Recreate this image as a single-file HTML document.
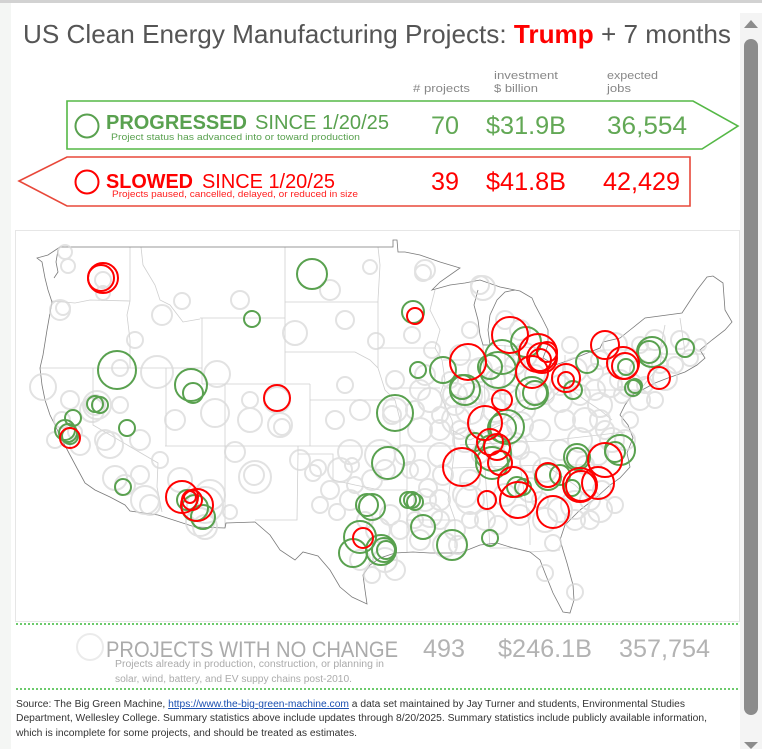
<!DOCTYPE html>
<html><head><meta charset="utf-8"><style>
html,body{margin:0;padding:0;background:#fff;width:762px;height:749px;overflow:hidden}
svg{display:block}
text{font-family:"Liberation Sans",Arial,sans-serif}
.g{fill:none;stroke:#d9d9d9;stroke-width:2;opacity:.75}
.gr{fill:none;stroke:#59a14f;stroke-width:2}
.rd{fill:none;stroke:#ff0000;stroke-width:2}
.st{fill:none;stroke:#cfcfcf;stroke-width:.8}
</style></head><body>
<svg width="762" height="749" viewBox="0 0 762 749" xmlns="http://www.w3.org/2000/svg">
<rect x="0" y="0" width="762" height="749" fill="#fff"/>
<rect x="0" y="0" width="11" height="749" fill="#f4f6f4"/>
<rect x="740" y="13" width="22" height="736" fill="#f4f4f4"/>
<rect x="0" y="0" width="762" height="3" fill="#d2d2d2"/>
<!-- scrollbar -->
<polygon points="744,28 758,28 751,20" fill="#8c8c8c"/>
<rect x="744" y="39" width="14" height="676" rx="7" fill="#8c8c8c"/>
<polygon points="744,742 758,742 751,749" fill="#8c8c8c"/>

<!-- title -->
<text x="23" y="43" font-size="26" fill="#555" textLength="708" lengthAdjust="spacingAndGlyphs">US Clean Energy Manufacturing Projects: <tspan fill="#ff0000" font-weight="bold">Trump</tspan> + 7 months</text>

<!-- headers -->
<text x="413" y="92" font-size="11" fill="#888" textLength="57" lengthAdjust="spacingAndGlyphs"># projects</text>
<text x="494" y="79" font-size="11" fill="#888" textLength="64" lengthAdjust="spacingAndGlyphs">investment</text>
<text x="494" y="92" font-size="11" fill="#888" textLength="44" lengthAdjust="spacingAndGlyphs">$ billion</text>
<text x="607" y="79" font-size="11" fill="#888" textLength="51" lengthAdjust="spacingAndGlyphs">expected</text>
<text x="607" y="92" font-size="11" fill="#888" textLength="24" lengthAdjust="spacingAndGlyphs">jobs</text>

<!-- progressed box -->
<polygon points="67,101 693,101 738,126 702,149 67,149" fill="none" stroke="#55b846" stroke-width="1.6"/>
<circle cx="87" cy="126" r="11.5" class="gr"/>
<text x="106" y="129" font-size="20" fill="#59a14f" font-weight="bold" textLength="141" lengthAdjust="spacingAndGlyphs">PROGRESSED</text>
<text x="255" y="129" font-size="20" fill="#59a14f" textLength="134" lengthAdjust="spacingAndGlyphs">SINCE 1/20/25</text>
<text x="111" y="140" font-size="9.5" fill="#59a14f" textLength="249" lengthAdjust="spacingAndGlyphs">Project status has advanced into or toward production</text>
<text x="431" y="134" font-size="25" fill="#62a855" textLength="28" lengthAdjust="spacingAndGlyphs">70</text>
<text x="486" y="134" font-size="25" fill="#62a855" textLength="80" lengthAdjust="spacingAndGlyphs">$31.9B</text>
<text x="607" y="134" font-size="25" fill="#62a855" textLength="80" lengthAdjust="spacingAndGlyphs">36,554</text>

<!-- slowed box -->
<polygon points="19,181 67,157 690,157 690,206 67,206" fill="none" stroke="#e8483a" stroke-width="1.6"/>
<circle cx="87" cy="182" r="11.5" class="rd"/>
<text x="106" y="188" font-size="20" fill="#ff0000" font-weight="bold" textLength="87" lengthAdjust="spacingAndGlyphs">SLOWED</text>
<text x="202" y="188" font-size="20" fill="#ff0000" textLength="133" lengthAdjust="spacingAndGlyphs">SINCE 1/20/25</text>
<text x="112" y="197" font-size="9.5" fill="#ff2020" textLength="246" lengthAdjust="spacingAndGlyphs">Projects paused, cancelled, delayed, or reduced in size</text>
<text x="431" y="190" font-size="25" fill="#ff0000" textLength="28" lengthAdjust="spacingAndGlyphs">39</text>
<text x="486" y="190" font-size="25" fill="#ff0000" textLength="80" lengthAdjust="spacingAndGlyphs">$41.8B</text>
<text x="603" y="190" font-size="25" fill="#ff0000" textLength="77" lengthAdjust="spacingAndGlyphs">42,429</text>

<!-- map frame -->
<rect x="15.5" y="230.5" width="724" height="391" fill="#fff" stroke="#e6e6e6" stroke-width="1"/>

<!-- state borders -->
<g class="st">
<polyline points="52,301 75,303 90,300 130,301"/>
<polyline points="130,247 130,301 127,315 130,340 130,368"/>
<polyline points="40,368 202,368"/>
<polyline points="141,247 143,265 155,285 160,300 170,305 183,322 200,319"/>
<polyline points="202,318 202,384"/>
<polyline points="200,318 285,318"/>
<polyline points="285,247 285,384"/>
<polyline points="285,302 378,302"/>
<polyline points="285,352 355,352 370,360 378,368"/>
<polyline points="202,384 310,384"/>
<polyline points="166,368 166,446"/>
<polyline points="93,368 93,425 158,463 157,487 162,512"/>
<polyline points="225,384 225,528"/>
<polyline points="165,446 400,446"/>
<polyline points="310,384 310,446"/>
<polyline points="310,400 395,400"/>
<polyline points="298,446 298,454 297,520 255,520"/>
<polyline points="298,454 333,454 333,480 355,485 380,490 407,490"/>
<polyline points="407,446 407,490 407,520 407,552"/>
<polyline points="378,247 380,265 378,300 378,368"/>
<polyline points="378,348 435,348"/>
<polyline points="378,368 385,390 395,400 400,420 400,446"/>
<polyline points="390,388 440,388"/>
<polyline points="400,446 455,446 455,453"/>
<polyline points="407,520 455,520"/>
<polyline points="435,290 430,310 440,330 435,348 442,360 445,380 440,395 452,420 455,446 452,470 448,500 455,520 455,548"/>
<polyline points="443,360 480,360"/>
<polyline points="483,345 485,400 480,420"/>
<polyline points="452,430 470,440 490,430 510,420 530,405 550,400 565,385"/>
<polyline points="505,345 505,410"/>
<polyline points="490,345 540,348"/>
<polyline points="460,445 560,440"/>
<polyline points="452,468 548,465"/>
<polyline points="485,468 490,548"/>
<polyline points="520,465 530,530 530,545"/>
<polyline points="490,548 515,548 530,552 560,550"/>
<polyline points="545,465 575,485 590,500"/>
<polyline points="560,465 600,465 610,472"/>
<polyline points="555,440 625,432"/>
<polyline points="565,385 585,400 600,410 612,420"/>
<polyline points="565,355 565,390 640,390"/>
<polyline points="600,350 660,350"/>
<polyline points="660,350 665,325"/>
<polyline points="680,318 685,352"/>
<polyline points="660,354 705,354"/>
<polyline points="640,390 652,375 660,365 662,352"/>
</g>

<!-- outline -->
<polyline fill="none" stroke="#7a7a7a" stroke-width="0.8" points="60,247 393,247 393,240 397,240 398,252 405,252 420,255 440,262 460,268 440,282 432,290 450,285 465,283 480,280 500,287 520,291 532,298 535,305 542,318 548,330 548,345 543,358 555,365 570,360 590,352 600,348 603,342 620,338 630,330 645,318 682,313 697,290 707,277 713,276 723,283 725,310 732,322 725,330 712,340 700,350 705,358 697,365 685,372 668,378 655,383 642,390 632,395 625,405 620,415 628,425 633,438 627,453 630,467 620,478 610,485 597,497 580,510 565,525 560,540 567,563 573,585 574,600 570,613 563,612 553,593 545,573 540,560 530,552 513,548 497,543 480,545 460,553 430,553 413,552 395,553 380,558 370,565 363,575 365,590 367,604 352,597 340,587 330,570 318,556 303,552 295,560 280,550 270,535 255,522 226,523 225,528 195,527 158,515 130,511 125,505 110,497 95,490 85,483 78,470 70,455 62,440 55,425 50,415 45,400 42,385 40,368 43,355 47,330 52,302 48,290 45,278 42,262 37,258 48,255 60,247"/>
<polyline fill="none" stroke="#7a7a7a" stroke-width="0.8" points="478,290 474,305 478,320 480,335 483,345 490,345 488,330 490,315 497,300 505,292 515,290"/>
<polyline fill="none" stroke="#7a7a7a" stroke-width="0.8" points="58,250 56,262 58,272 54,278"/>

<!-- gray circles -->
<g class="g">
<circle cx="65" cy="252" r="7"/><circle cx="68" cy="266" r="7"/><circle cx="60" cy="310" r="10"/><circle cx="63" cy="308" r="7"/>
<circle cx="103" cy="293" r="7"/><circle cx="103" cy="280" r="8"/><circle cx="162" cy="315" r="10"/><circle cx="182" cy="301" r="8"/>
<circle cx="295" cy="333" r="12"/><circle cx="370" cy="267" r="7"/><circle cx="376" cy="341" r="8"/><circle cx="120" cy="368" r="8"/>
<circle cx="157" cy="372" r="16"/><circle cx="217" cy="374" r="13"/><circle cx="43" cy="387" r="13"/><circle cx="97" cy="405" r="14"/>
<circle cx="95" cy="405" r="10"/><circle cx="92" cy="410" r="12"/><circle cx="120" cy="405" r="8"/><circle cx="62" cy="420" r="8"/>
<circle cx="75" cy="432" r="7"/><circle cx="105" cy="440" r="10"/><circle cx="110" cy="445" r="13"/><circle cx="125" cy="485" r="10"/>
<circle cx="115" cy="478" r="12"/><circle cx="140" cy="475" r="9"/><circle cx="145" cy="500" r="14"/><circle cx="150" cy="505" r="10"/>
<circle cx="160" cy="460" r="8"/><circle cx="200" cy="522" r="14"/><circle cx="205" cy="527" r="12"/><circle cx="230" cy="512" r="7"/>
<circle cx="255" cy="477" r="16"/><circle cx="254" cy="475" r="10"/><circle cx="277" cy="400" r="13"/><circle cx="280" cy="425" r="12"/>
<circle cx="282" cy="427" r="8"/><circle cx="235" cy="452" r="10"/><circle cx="215" cy="413" r="14"/><circle cx="313" cy="473" r="8"/>
<circle cx="337" cy="512" r="8"/><circle cx="300" cy="460" r="10"/><circle cx="318" cy="468" r="8"/><circle cx="340" cy="470" r="12"/>
<circle cx="380" cy="455" r="15"/><circle cx="385" cy="470" r="10"/><circle cx="350" cy="452" r="12"/><circle cx="355" cy="485" r="8"/>
<circle cx="320" cy="505" r="8"/><circle cx="395" cy="410" r="12"/><circle cx="392" cy="415" r="9"/><circle cx="352" cy="465" r="7"/>
<circle cx="420" cy="470" r="10"/><circle cx="420" cy="390" r="10"/><circle cx="430" cy="400" r="12"/><circle cx="440" cy="430" r="10"/>
<circle cx="440" cy="455" r="12"/><circle cx="460" cy="430" r="9"/><circle cx="455" cy="405" r="10"/><circle cx="470" cy="395" r="12"/>
<circle cx="450" cy="380" r="8"/><circle cx="432" cy="350" r="8"/><circle cx="412" cy="335" r="8"/><circle cx="423" cy="273" r="8"/>
<circle cx="425" cy="270" r="10"/><circle cx="483" cy="288" r="12"/><circle cx="480" cy="285" r="9"/><circle cx="470" cy="330" r="8"/>
<circle cx="505" cy="320" r="9"/><circle cx="520" cy="330" r="10"/><circle cx="510" cy="395" r="10"/><circle cx="495" cy="410" r="12"/>
<circle cx="525" cy="410" r="10"/><circle cx="545" cy="395" r="9"/><circle cx="560" cy="400" r="12"/><circle cx="580" cy="395" r="10"/>
<circle cx="595" cy="390" r="10"/><circle cx="610" cy="385" r="12"/><circle cx="620" cy="380" r="10"/><circle cx="640" cy="370" r="10"/>
<circle cx="660" cy="365" r="8"/><circle cx="655" cy="340" r="10"/><circle cx="600" cy="360" r="9"/><circle cx="570" cy="345" r="8"/>
<circle cx="615" cy="345" r="12"/><circle cx="690" cy="358" r="8"/><circle cx="700" cy="345" r="6"/><circle cx="640" cy="400" r="10"/>
<circle cx="622" cy="395" r="8"/><circle cx="600" cy="420" r="10"/><circle cx="580" cy="440" r="12"/><circle cx="560" cy="450" r="10"/>
<circle cx="545" cy="470" r="12"/><circle cx="530" cy="462" r="10"/><circle cx="515" cy="445" r="12"/><circle cx="500" cy="460" r="10"/>
<circle cx="470" cy="480" r="10"/><circle cx="465" cy="495" r="12"/><circle cx="440" cy="500" r="10"/><circle cx="430" cy="515" r="12"/>
<circle cx="420" cy="540" r="10"/><circle cx="400" cy="530" r="9"/><circle cx="385" cy="560" r="12"/><circle cx="372" cy="575" r="8"/>
<circle cx="395" cy="570" r="10"/><circle cx="505" cy="495" r="11"/><circle cx="520" cy="515" r="10"/><circle cx="540" cy="500" r="8"/>
<circle cx="560" cy="510" r="12"/><circle cx="575" cy="520" r="10"/><circle cx="590" cy="500" r="10"/><circle cx="602" cy="490" r="9"/>
<circle cx="615" cy="505" r="8"/><circle cx="553" cy="543" r="8"/><circle cx="545" cy="573" r="8"/><circle cx="575" cy="592" r="8"/>
<circle cx="498" cy="525" r="9"/><circle cx="470" cy="520" r="8"/><circle cx="455" cy="530" r="10"/><circle cx="445" cy="545" r="12"/>
<circle cx="458" cy="545" r="9"/><circle cx="535" cy="375" r="10"/><circle cx="525" cy="355" r="12"/><circle cx="495" cy="380" r="10"/>
<circle cx="480" cy="395" r="9"/><circle cx="612" cy="440" r="12"/><circle cx="598" cy="455" r="10"/><circle cx="630" cy="420" r="8"/>
<circle cx="500" cy="435" r="12"/><circle cx="520" cy="450" r="9"/><circle cx="480" cy="455" r="8"/><circle cx="443" cy="475" r="10"/>
<circle cx="410" cy="470" r="8"/><circle cx="428" cy="488" r="9"/><circle cx="390" cy="515" r="10"/><circle cx="360" cy="560" r="10"/>
<circle cx="565" cy="420" r="10"/><circle cx="585" cy="465" r="9"/><circle cx="640" cy="345" r="8"/><circle cx="675" cy="365" r="8"/>
<circle cx="470" cy="410" r="14"/><circle cx="455" cy="395" r="12"/><circle cx="520" cy="425" r="13"/><circle cx="540" cy="430" r="10"/>
<circle cx="585" cy="420" r="12"/><circle cx="560" cy="385" r="10"/><circle cx="575" cy="370" r="12"/><circle cx="595" cy="372" r="8"/>
<circle cx="630" cy="385" r="12"/><circle cx="645" cy="385" r="8"/><circle cx="665" cy="378" r="12"/><circle cx="600" cy="405" r="12"/>
<circle cx="575" cy="505" r="14"/><circle cx="590" cy="520" r="9"/><circle cx="600" cy="510" r="12"/><circle cx="545" cy="520" r="12"/>
<circle cx="530" cy="490" r="12"/><circle cx="470" cy="500" r="14"/><circle cx="485" cy="520" r="10"/><circle cx="440" cy="520" r="9"/>
<circle cx="425" cy="500" r="11"/><circle cx="415" cy="520" r="8"/><circle cx="378" cy="530" r="12"/><circle cx="365" cy="520" r="8"/>
<circle cx="350" cy="500" r="10"/><circle cx="330" cy="490" r="9"/><circle cx="372" cy="480" r="10"/><circle cx="405" cy="455" r="10"/>
<circle cx="420" cy="430" r="12"/><circle cx="415" cy="410" r="9"/><circle cx="440" cy="415" r="8"/><circle cx="465" cy="440" r="12"/>
<circle cx="456" cy="420" r="14"/><circle cx="505" cy="380" r="14"/><circle cx="515" cy="365" r="10"/><circle cx="480" cy="370" r="12"/>
<circle cx="460" cy="355" r="10"/><circle cx="425" cy="375" r="10"/><circle cx="395" cy="380" r="9"/><circle cx="360" cy="410" r="10"/>
<circle cx="335" cy="420" r="9"/><circle cx="345" cy="385" r="8"/><circle cx="250" cy="420" r="12"/><circle cx="250" cy="400" r="8"/>
<circle cx="175" cy="420" r="10"/><circle cx="180" cy="480" r="12"/><circle cx="210" cy="495" r="15"/><circle cx="205" cy="505" r="18"/>
<circle cx="70" cy="400" r="9"/><circle cx="80" cy="445" r="10"/><circle cx="55" cy="440" r="8"/><circle cx="140" cy="440" r="10"/>
<circle cx="135" cy="340" r="8"/><circle cx="240" cy="300" r="9"/><circle cx="330" cy="290" r="10"/><circle cx="345" cy="320" r="9"/>
<circle cx="655" cy="400" r="8"/><circle cx="680" cy="340" r="9"/><circle cx="605" cy="430" r="9"/><circle cx="625" cy="440" r="10"/>
</g>

<!-- green circles -->
<g class="gr">
<circle cx="312" cy="274" r="15"/><circle cx="252" cy="319" r="8"/><circle cx="117" cy="370" r="19"/>
<circle cx="191" cy="385" r="16"/><circle cx="193" cy="393" r="10"/><circle cx="95" cy="404" r="8"/><circle cx="100" cy="405" r="8"/>
<circle cx="73" cy="418" r="8"/><circle cx="65" cy="430" r="10"/><circle cx="68" cy="433" r="9"/><circle cx="70" cy="436" r="8"/>
<circle cx="127" cy="428" r="8"/><circle cx="123" cy="487" r="8"/>
<circle cx="187" cy="500" r="10"/><circle cx="195" cy="508" r="13"/><circle cx="203" cy="517" r="12"/>
<circle cx="413" cy="312" r="11"/><circle cx="526" cy="342" r="15"/><circle cx="502" cy="357" r="17"/><circle cx="490" cy="367" r="12"/>
<circle cx="498" cy="370" r="18"/><circle cx="443" cy="370" r="13"/><circle cx="418" cy="370" r="8"/>
<circle cx="462" cy="387" r="12"/><circle cx="465" cy="390" r="15"/><circle cx="532" cy="393" r="16"/><circle cx="535" cy="393" r="12"/>
<circle cx="573" cy="390" r="9"/><circle cx="587" cy="362" r="11"/><circle cx="649" cy="352" r="11"/><circle cx="652" cy="352" r="15"/>
<circle cx="685" cy="348" r="9"/><circle cx="626" cy="367" r="8"/><circle cx="633" cy="388" r="8"/><circle cx="635" cy="386" r="7"/>
<circle cx="395" cy="413" r="18"/><circle cx="388" cy="463" r="16"/>
<circle cx="408" cy="500" r="8"/><circle cx="412" cy="500" r="8"/><circle cx="415" cy="502" r="8"/>
<circle cx="367" cy="505" r="11"/><circle cx="372" cy="507" r="13"/><circle cx="423" cy="527" r="12"/>
<circle cx="360" cy="537" r="16"/><circle cx="353" cy="553" r="14"/><circle cx="381" cy="550" r="15"/><circle cx="384" cy="550" r="12"/><circle cx="386" cy="550" r="9"/>
<circle cx="452" cy="545" r="15"/><circle cx="490" cy="538" r="8"/>
<circle cx="507" cy="427" r="17"/><circle cx="502" cy="428" r="14"/><circle cx="475" cy="442" r="9"/>
<circle cx="493" cy="453" r="18"/><circle cx="492" cy="463" r="16"/>
<circle cx="577" cy="457" r="13"/><circle cx="577" cy="458" r="10"/><circle cx="620" cy="450" r="15"/><circle cx="615" cy="452" r="10"/>
<circle cx="548" cy="477" r="13"/><circle cx="560" cy="475" r="10"/><circle cx="572" cy="488" r="8"/>
<circle cx="517" cy="487" r="10"/><circle cx="523" cy="487" r="8"/>
</g>

<!-- red circles -->
<g class="rd">
<circle cx="103" cy="278" r="15"/><circle cx="101" cy="278" r="13"/><circle cx="277" cy="398" r="13"/>
<circle cx="70" cy="438" r="10"/>
<circle cx="182" cy="497" r="16"/><circle cx="197" cy="505" r="16"/><circle cx="192" cy="500" r="10"/><circle cx="190" cy="497" r="6"/>
<circle cx="415" cy="316" r="8"/><circle cx="510" cy="335" r="18"/>
<circle cx="538" cy="353" r="19"/><circle cx="542" cy="358" r="15"/><circle cx="540" cy="360" r="11"/><circle cx="547" cy="352" r="10"/>
<circle cx="468" cy="362" r="18"/><circle cx="532" cy="372" r="16"/><circle cx="502" cy="400" r="10"/>
<circle cx="566" cy="378" r="14"/><circle cx="566" cy="380" r="8"/><circle cx="605" cy="345" r="14"/>
<circle cx="623" cy="363" r="16"/><circle cx="625" cy="366" r="13"/><circle cx="659" cy="378" r="11"/>
<circle cx="485" cy="423" r="17"/><circle cx="490" cy="442" r="13"/><circle cx="497" cy="447" r="13"/>
<circle cx="500" cy="463" r="12"/><circle cx="462" cy="467" r="19"/>
<circle cx="513" cy="482" r="15"/><circle cx="518" cy="500" r="18"/><circle cx="487" cy="500" r="9"/>
<circle cx="363" cy="538" r="10"/><circle cx="553" cy="512" r="16"/><circle cx="548" cy="475" r="12"/>
<circle cx="580" cy="485" r="17"/><circle cx="581" cy="486" r="15"/><circle cx="598" cy="483" r="16"/><circle cx="605" cy="460" r="17"/>
</g>

<!-- no change section -->
<line x1="16" y1="624" x2="739" y2="624" stroke="#3cb83c" stroke-width="1.5" stroke-dasharray="2,2"/>
<line x1="16" y1="689" x2="739" y2="689" stroke="#3cb83c" stroke-width="1.5" stroke-dasharray="2,2"/>
<circle cx="90" cy="647" r="13" fill="none" stroke="#ebebeb" stroke-width="2"/>
<text x="106" y="657" font-size="22" fill="#ababab" textLength="292" lengthAdjust="spacingAndGlyphs">PROJECTS WITH NO CHANGE</text>
<text x="115" y="667" font-size="10" fill="#ababab" textLength="269" lengthAdjust="spacingAndGlyphs">Projects already in production, construction, or planning in</text>
<text x="115" y="682" font-size="10" fill="#ababab" textLength="237" lengthAdjust="spacingAndGlyphs">solar, wind, battery, and EV suppy chains post-2010.</text>
<text x="423" y="657" font-size="25" fill="#b3b3b3" textLength="42" lengthAdjust="spacingAndGlyphs">493</text>
<text x="498" y="657" font-size="25" fill="#b3b3b3" textLength="94" lengthAdjust="spacingAndGlyphs">$246.1B</text>
<text x="619" y="657" font-size="25" fill="#b3b3b3" textLength="91" lengthAdjust="spacingAndGlyphs">357,754</text>

<!-- source -->
<text x="16" y="707" font-size="9.8" fill="#333" textLength="669" lengthAdjust="spacingAndGlyphs">Source: The Big Green Machine, <tspan fill="#1a4fb0" text-decoration="underline">https://www.the-big-green-machine.com</tspan> a data set maintained by Jay Turner and students, Environmental Studies</text>
<text x="16" y="721" font-size="9.8" fill="#333" textLength="691" lengthAdjust="spacingAndGlyphs">Department, Wellesley College.  Summary statistics above include updates through 8/20/2025.  Summary statistics include publicly available information,</text>
<text x="16" y="736" font-size="9.8" fill="#333" textLength="341" lengthAdjust="spacingAndGlyphs">which is incomplete for some projects, and should be treated as estimates.</text>
</svg>
</body></html>
